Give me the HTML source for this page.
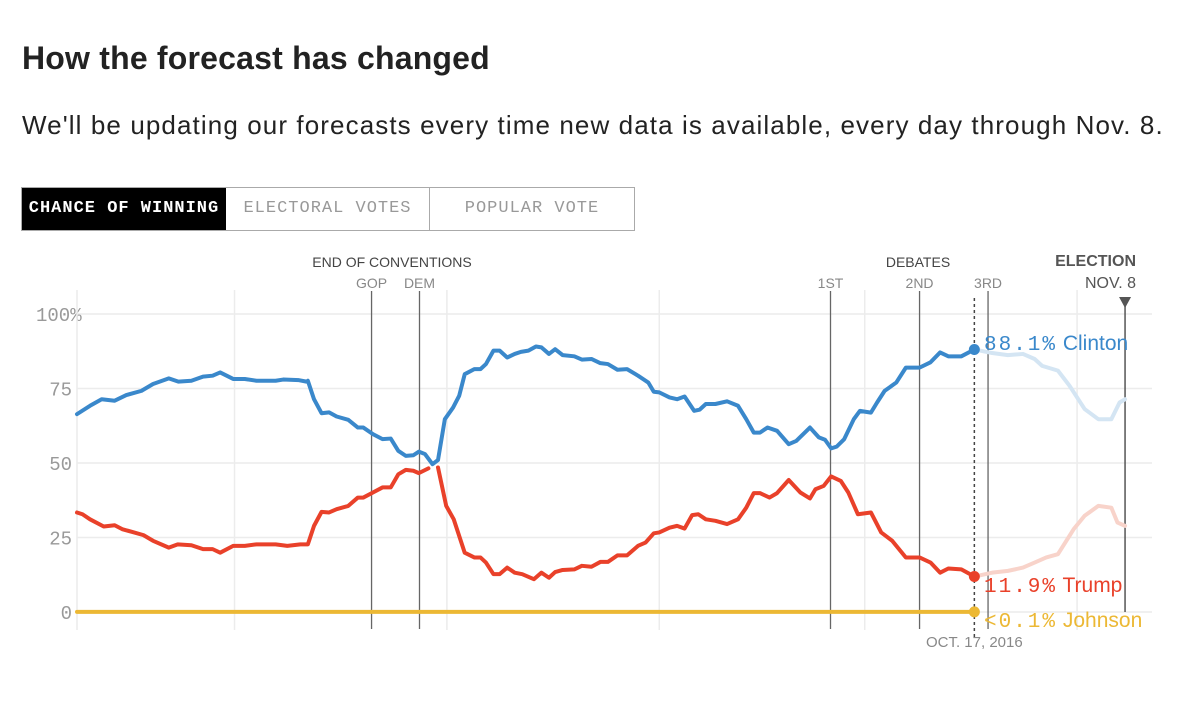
<!DOCTYPE html>
<html><head><meta charset="utf-8"><style>
body{margin:0;background:#fff;width:1200px;height:714px;overflow:hidden;font-family:"Liberation Sans",sans-serif;}
.t{position:absolute;white-space:nowrap}
</style></head><body>
<div class="t" style="left:22px;top:40px;font-size:32px;font-weight:bold;color:#222;letter-spacing:0.2px">How the forecast has changed</div>
<div class="t" style="left:22px;top:110px;font-size:26px;color:#222;letter-spacing:1.1px">We'll be updating our forecasts every time new data is available, every day through Nov. 8.</div>
<div style="position:absolute;left:21px;top:187px;width:612px;height:42px;border:1px solid #aaa;font-family:'Liberation Mono',monospace;font-size:17px;letter-spacing:1px">
 <div style="position:absolute;left:0;top:0;width:204px;height:42px;background:#000;color:#fff;font-weight:bold;line-height:42px;text-align:center">CHANCE OF WINNING</div>
 <div style="position:absolute;left:204px;top:0;width:203px;height:42px;color:#999;line-height:42px;text-align:center;border-right:1px solid #aaa">ELECTORAL VOTES</div>
 <div style="position:absolute;left:408px;top:0;width:204px;height:42px;color:#999;line-height:42px;text-align:center">POPULAR VOTE</div>
</div>
<svg id="chart" width="1200" height="714" style="position:absolute;left:0;top:0"></svg>
<script>
const clintonDays=[0,1.9,3.6,5.5,7.2,9.4,11.1,13.4,14.8,16.7,18.4,19.8,20.9,22.8,24.5,26.2,29,30.1,32.4,33.5,33.7,34.6,35.7,36.8,37.9,39.6,41,41.8,43.2,44.6,45.8,46.9,48,49.1,49.9,50.8,51.9,52.7,53.7,54.9,55.8,56.6,58,58.9,59.7,60.8,61.7,62.8,63.9,64.8,65.9,67,67.8,68.9,69.8,70.9,72.6,73.7,75.1,76.4,77.5,78.9,80.3,81.9,83.4,84.2,85,86.5,87.6,88.7,90.1,90.9,91.8,93.2,94.9,96.5,97.7,98.8,99.7,100.8,102.2,103.9,105,107,108.3,109.2,110.1,110.9,112,113.4,114.3,115.9,116.8,117.9,119.6,121,123,124.6,126,127.2,129.1,131];
const clintonVals=[66.4,69.2,71.4,70.9,72.8,74.2,76.5,78.4,77.3,77.6,79,79.3,80.4,78.2,78.2,77.6,77.6,78,77.8,77.3,77.6,71.4,66.7,67,65.6,64.5,61.9,61.9,59.7,58,58.2,54.1,52.4,52.6,53.8,53,49.6,51,64.7,68.6,72.6,79.8,81.5,81.5,83.2,87.7,87.7,85.4,86.6,87.3,87.7,89.1,88.8,86.6,88.2,86.2,85.8,84.7,84.9,83.5,83.2,81.3,81.5,79.3,77,73.9,73.7,72,71.4,72.3,67.5,67.9,69.8,69.8,70.7,69.2,64.7,60.2,60.2,61.9,60.8,56.3,57.4,61.9,58.6,57.8,54.9,55.5,58,64.7,67.5,66.9,70.3,74.2,77,82,82,83.8,87.1,85.8,85.8,88.1];
const clintonFutureDays=[131,133.6,135.9,138.1,139.8,140.9,143.2,144.9,147.1,149.1,151,152.2,153];
const clintonFutureVals=[88.1,86.9,86.2,86.6,84.9,82.6,81,75.9,68.1,64.7,64.7,70.3,71.4];
const trumpDays1=[0,0.8,1.9,3.9,5.5,6.6,8,9.7,11.1,13.4,14.7,16.7,18.4,19.8,20.9,22.8,24.5,26.2,29,30.7,32.6,33.7,34.6,35.7,36.8,37.9,39.6,41,41.8,43.2,44.6,45.8,46.9,48,49.1,49.9,51.3];
const trumpVals1=[33.4,32.8,31.1,28.7,29.1,27.8,26.9,25.8,23.9,21.6,22.7,22.4,21.1,21.1,19.9,22.2,22.2,22.7,22.7,22.2,22.7,22.7,28.9,33.6,33.4,34.5,35.6,38.4,38.4,40.1,41.8,41.8,46.2,47.7,47.4,46.6,48.2];
const trumpDays2=[52.7,53.9,55,56.6,58,58.9,59.7,60.8,61.7,62.8,63.9,65,66.7,67.8,68.9,69.8,70.9,72.6,73.7,75.1,76.4,77.5,78.9,80.3,81.9,83,84.2,85,86.5,87.6,88.7,89.8,90.7,91.8,93.2,94.9,96.5,97.7,98.8,99.7,101.1,102.2,103.9,105.6,107,107.8,109,110.1,111.5,112.6,114,115.9,117.4,119,121,123,124.6,126,127.2,129.1,131];
const trumpVals2=[48.5,35.6,31.1,19.9,18.3,18.3,16.6,12.7,12.7,14.9,13.2,12.7,11,13.2,11.5,13.4,14.1,14.3,15.5,15.2,16.8,16.8,19,19,22.2,23.3,26.4,26.7,28.3,28.9,28,32.5,32.8,31.1,30.6,29.5,31.1,35,39.9,39.9,38.4,39.9,44.3,40.1,38.1,41.2,42.3,45.5,44,40.1,32.8,33.4,26.7,23.9,18.3,18.3,16.6,13.2,14.6,14.3,11.9];
const trumpFutureDays=[131,133.6,135.9,138.1,139.8,141.5,143.2,145.5,147.1,149.1,151,151.9,153];
const trumpFutureVals=[11.9,13.2,13.8,14.9,16.6,18.3,19.4,27.8,32.3,35.6,35,30,28.9];
const johnsonDays=[0,131];
const johnsonVals=[0.05,0.05];
const yTicks=[0,25,50,75,100];
const yTickLabels=["0","25","50","75","100%"];
const monthDays=[23,54,85,115,146];
const eventDays=[43,50,110,123,133];
const eventLabels=["GOP","DEM","1ST","2ND","3RD"];
const todayDay=131, electionDay=153;

const svg=document.getElementById('chart');
const NS='http://www.w3.org/2000/svg';
const X=d=>77+d*6.85;
const Y=v=>612-v*2.98;
function mk(tag,attrs,parent){const e=document.createElementNS(NS,tag);for(const k in attrs)e.setAttribute(k,attrs[k]);(parent||svg).appendChild(e);return e;}
function txt(s,x,y,attrs){const t=mk('text',Object.assign({x:x,y:y},attrs));t.textContent=s;return t;}

yTicks.forEach((v,i)=>{
 const g=mk('line',{x1:77,x2:1152,y1:Y(v),y2:Y(v),stroke:'#ececec','stroke-width':1.5});
 
 
 const t=txt(yTickLabels[i],v===100?36:72,Y(v)+7,{'font-family':'Liberation Mono, monospace','font-size':19,fill:'#999','text-anchor':v===100?'start':'end'});
 
 
});
[0].concat(monthDays).forEach(d=>{
 const g=mk('line',{x1:X(d),x2:X(d),y1:290,y2:630,stroke:'#ececec','stroke-width':1.5});
 
 
});
eventDays.forEach((d,i)=>{
 const l=mk('line',{x1:X(d),x2:X(d),y1:291,y2:629,stroke:'#666','stroke-width':1.3});
 
 
 const t=txt(eventLabels[i],X(d),288,{'font-size':14,fill:'#888','text-anchor':'middle'});
 
 
});
let t1=txt('END OF CONVENTIONS',392,267,{'font-size':14,fill:'#444','text-anchor':'middle'});


let t2=txt('DEBATES',918,267,{'font-size':14,fill:'#444','text-anchor':'middle'});


let t3=txt('ELECTION',1136,266,{'font-size':16,'font-weight':'bold',fill:'#555','text-anchor':'end'});


let t4=txt('NOV. 8',1136,288,{'font-size':16,fill:'#555','text-anchor':'end'});


const el=mk('line',{x1:X(electionDay),x2:X(electionDay),y1:300,y2:612,stroke:'#555','stroke-width':1.5});


const tri=mk('path',{d:`M${X(electionDay)-6},297 L${X(electionDay)+6},297 L${X(electionDay)},308 Z`,fill:'#555'});


const dl=mk('line',{x1:X(todayDay),x2:X(todayDay),y1:298,y2:640,stroke:'#444','stroke-width':1.5,'stroke-dasharray':'3,3'});


let t5=txt('OCT. 17, 2016',X(todayDay),647,{'font-size':15,fill:'#888','text-anchor':'middle'});



function line(days,vals,color,w,name){
 const p=mk('polyline',{points:days.map((d,i)=>X(d)+','+Y(vals[i])).join(' '),fill:'none',stroke:color,'stroke-width':w,'stroke-linejoin':'round','stroke-linecap':'round'});
 
 
}
line(clintonFutureDays,clintonFutureVals,'#d4e5f3',4,'clinton-future-line');
line(trumpFutureDays,trumpFutureVals,'#f8d3ca',4,'trump-future-line');
line(johnsonDays,johnsonVals,'#ecb834',4,'johnson-line');
line(clintonDays,clintonVals,'#3a88cb',4,'clinton-line');
line(trumpDays1,trumpVals1,'#e9412a',4,'trump-line-early');
line(trumpDays2,trumpVals2,'#e9412a',4,'trump-line-late');

function endLabel(val,pct,name,color,ly,key){
 const c=mk('circle',{cx:X(todayDay),cy:Y(val),r:5.5,fill:color});
 
 
 const t=mk('text',{x:984,y:ly,fill:color,'font-size':21});
 
 
 const a=mk('tspan',{'font-family':'Liberation Mono, monospace','letter-spacing':'2'},t);a.textContent=pct;
 const b=mk('tspan',{'font-family':'Liberation Sans, sans-serif'},t);b.textContent=' '+name;
}
endLabel(clintonVals[clintonVals.length-1],'88.1%','Clinton','#3a88cb',350,'clinton');
endLabel(trumpVals2[trumpVals2.length-1],'11.9%','Trump','#e9412a',592,'trump');
endLabel(johnsonVals[1],'<0.1%','Johnson','#ecb834',627,'johnson');
</script>
</body></html>
